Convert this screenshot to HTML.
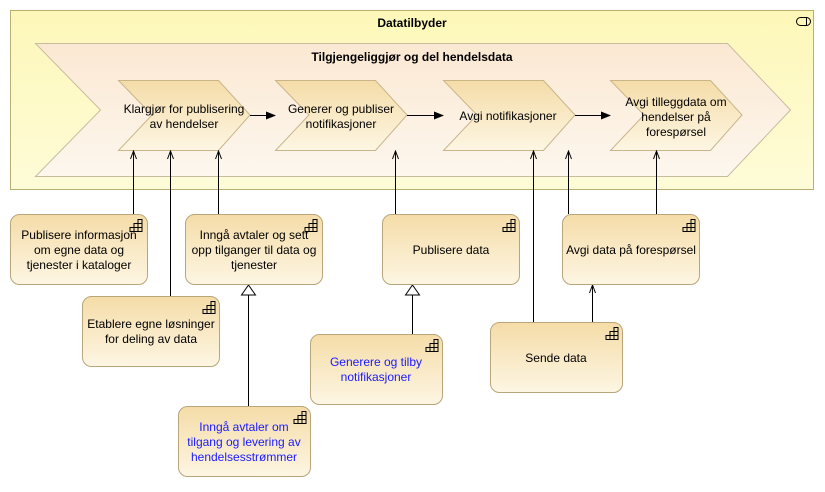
<!DOCTYPE html>
<html><head><meta charset="utf-8"><style>
body{margin:0;background:#fff;}
svg text{font-family:"Liberation Sans",sans-serif;font-size:12px;fill:#000;}
</style></head><body>
<svg width="825" height="487" viewBox="0 0 825 487" xmlns="http://www.w3.org/2000/svg">
<defs>
<linearGradient id="y" x1="0" y1="0" x2="0" y2="1"><stop offset="0" stop-color="#fdf7b8"/><stop offset="1" stop-color="#fefcd8"/></linearGradient>
<linearGradient id="big" x1="0" y1="0" x2="0" y2="1"><stop offset="0" stop-color="#fbe8d2"/><stop offset="1" stop-color="#fdf7ee"/></linearGradient>
<linearGradient id="c" x1="0" y1="0" x2="0" y2="1"><stop offset="0" stop-color="#f5dca8"/><stop offset="1" stop-color="#fdf6e3"/></linearGradient>
<marker id="a" markerWidth="10" markerHeight="8" refX="9" refY="4" orient="auto" markerUnits="userSpaceOnUse"><path d="M0,0 L10,4 L0,8 z" fill="#000"/></marker>
<marker id="o" markerWidth="10" markerHeight="8" refX="9" refY="4" orient="auto" markerUnits="userSpaceOnUse"><path d="M1,1 L9,4 L1,7" fill="none" stroke="#000"/></marker>
<marker id="t" markerWidth="12" markerHeight="16" refX="11" refY="8" orient="auto" markerUnits="userSpaceOnUse"><path d="M1,1 L11,8 L1,15 z" fill="#fff" stroke="#000"/></marker>
<g id="ic"><rect x="0" y="0" width="1" height="1" fill="none"/><path d="M8,0.5h4v12h-12v-4h4v-4h4z M4,4.5h8 M0,8.5h12 M8,0.5v12 M4,4.5v8" fill="none" stroke="#000" stroke-width="1"/></g>
</defs>
<rect x="10.5" y="10.5" width="803" height="179" fill="url(#y)" stroke="#b8b070"/>
<text x="412" y="27" text-anchor="middle" font-weight="bold">Datatilbyder</text>
<rect x="796.5" y="17.5" width="14" height="8" rx="4" fill="none" stroke="#000"/><line x1="806.5" y1="17.5" x2="806.5" y2="25.5" stroke="#000"/>
<path d="M35.5,43.5 H727.5 L790.5,110 L727.5,176.5 H35.5 L100.5,110 Z" fill="url(#big)" stroke="#c8bca0"/>
<text x="412" y="61" text-anchor="middle" font-weight="bold">Tilgjengeliggjør og del hendelsdata</text>
<g fill="url(#c)" stroke="#c8b58a">
<path d="M118.5,80.5 H218.5 L250,115 L218.5,150.5 H118.5 L152,115 Z"/>
<path d="M275.5,80.5 H375.5 L407,115 L375.5,150.5 H275.5 L309,115 Z"/>
<path d="M443.5,80.5 H543.5 L575,115 L543.5,150.5 H443.5 L477,115 Z"/>
<path d="M610.5,80.5 H710.5 L742,115 L710.5,150.5 H610.5 L644,115 Z"/>
</g>
<text x="184" y="113" text-anchor="middle">Klargjør for publisering</text>
<text x="184" y="128" text-anchor="middle">av hendelser</text>
<text x="341" y="113" text-anchor="middle">Generer og publiser</text>
<text x="341" y="128" text-anchor="middle">notifikasjoner</text>
<text x="508" y="120" text-anchor="middle">Avgi notifikasjoner</text>
<text x="676" y="106" text-anchor="middle">Avgi tilleggdata om</text>
<text x="676" y="121" text-anchor="middle">hendelser på</text>
<text x="676" y="136" text-anchor="middle">forespørsel</text>
<g stroke="#000" fill="none">
<line x1="250" y1="115.5" x2="275" y2="115.5" marker-end="url(#a)"/>
<line x1="407" y1="115.5" x2="443" y2="115.5" marker-end="url(#a)"/>
<line x1="575" y1="115.5" x2="610" y2="115.5" marker-end="url(#a)"/>
<line x1="133.5" y1="214" x2="133.5" y2="151" marker-end="url(#o)"/>
<line x1="170.5" y1="296" x2="170.5" y2="151" marker-end="url(#o)"/>
<line x1="218.5" y1="214" x2="218.5" y2="151" marker-end="url(#o)"/>
<line x1="395.5" y1="214" x2="395.5" y2="151" marker-end="url(#o)"/>
<line x1="533.5" y1="322" x2="533.5" y2="151" marker-end="url(#o)"/>
<line x1="568.5" y1="214" x2="568.5" y2="151" marker-end="url(#o)"/>
<line x1="656.5" y1="214" x2="656.5" y2="151" marker-end="url(#o)"/>
<line x1="592.5" y1="322" x2="592.5" y2="285" marker-end="url(#o)"/>
<line x1="248.5" y1="406" x2="248.5" y2="285" marker-end="url(#t)"/>
<line x1="412.5" y1="334" x2="412.5" y2="285" marker-end="url(#t)"/>
</g>
<g fill="url(#c)" stroke="#b8a57a">
<rect x="10.5" y="214.5" width="137" height="70" rx="9"/>
<rect x="82.5" y="296.5" width="137" height="70" rx="9"/>
<rect x="185.5" y="214.5" width="137" height="70" rx="9"/>
<rect x="178.5" y="406.5" width="132" height="70" rx="9"/>
<rect x="310.5" y="334.5" width="132" height="70" rx="9"/>
<rect x="382.5" y="214.5" width="137" height="70" rx="9"/>
<rect x="562.5" y="214.5" width="137" height="70" rx="9"/>
<rect x="490.5" y="322.5" width="132" height="70" rx="9"/>
</g>
<use href="#ic" x="130" y="219"/><use href="#ic" x="203" y="301"/><use href="#ic" x="305" y="219"/>
<use href="#ic" x="294" y="411"/><use href="#ic" x="426" y="339"/><use href="#ic" x="503" y="219"/>
<use href="#ic" x="683" y="219"/><use href="#ic" x="606" y="327"/>
<text x="79" y="239" text-anchor="middle">Publisere informasjon</text>
<text x="79" y="254" text-anchor="middle">om egne data og</text>
<text x="79" y="269" text-anchor="middle">tjenester i kataloger</text>
<text x="151" y="328" text-anchor="middle">Etablere egne løsninger</text>
<text x="151" y="343" text-anchor="middle">for deling av data</text>
<text x="254" y="239" text-anchor="middle">Inngå avtaler og sett</text>
<text x="254" y="254" text-anchor="middle">opp tilganger til data og</text>
<text x="254" y="269" text-anchor="middle">tjenester</text>
<g style="fill:#1a1aff">
<text x="244" y="431" text-anchor="middle" style="fill:#1a1aff">Inngå avtaler om</text>
<text x="244" y="446" text-anchor="middle" style="fill:#1a1aff">tilgang og levering av</text>
<text x="244" y="461" text-anchor="middle" style="fill:#1a1aff">hendelsesstrømmer</text>
<text x="376" y="366" text-anchor="middle" style="fill:#1a1aff">Generere og tilby</text>
<text x="376" y="381" text-anchor="middle" style="fill:#1a1aff">notifikasjoner</text>
</g>
<text x="451" y="254" text-anchor="middle">Publisere data</text>
<text x="631" y="254" text-anchor="middle">Avgi data på forespørsel</text>
<text x="556" y="362" text-anchor="middle">Sende data</text>
</svg>
</body></html>
